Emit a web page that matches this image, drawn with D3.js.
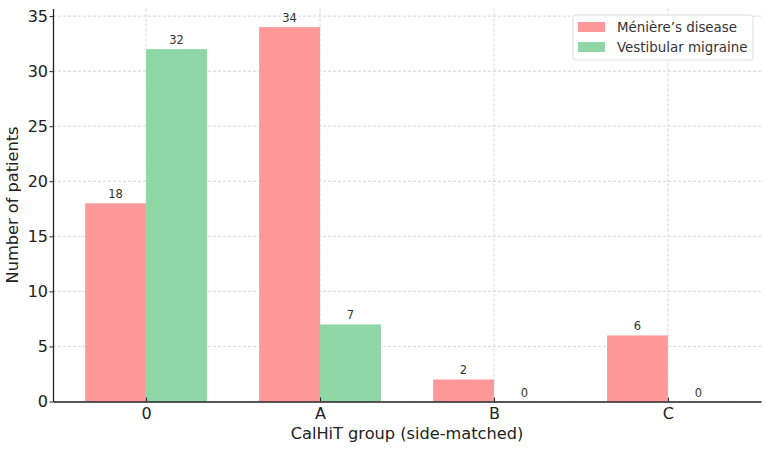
<!DOCTYPE html>
<html>
<head>
<meta charset="utf-8">
<script src="https://cdn.jsdelivr.net/npm/d3@7"></script>
<style>
  body { margin: 0; background: #fff; }
  text { font-family: "DejaVu Sans", sans-serif; }
</style>
</head>
<body>
<div id="chart"></div>
<script>
// Data
const categories = ['0', 'A', 'B', 'C'];
const menieres = [18, 34, 2, 6];
const migraine = [32, 7, 0, 0];
const seriesNames = ['Ménière’s disease', 'Vestibular migraine'];
const yTicks = [0, 5, 10, 15, 20, 25, 30, 35];

// Constants
const W = 766, H = 449;
const MARGIN = { top: 8.4, right: 5, bottom: 47.5, left: 53 };
const COLORS = ['#ff9999', '#8ed6a4'];
const BAR = 0.35;

const svg = d3.select('#chart').append('svg')
  .attr('width', W).attr('height', H);

// Scales (matplotlib-like limits)
const x = d3.scaleLinear()
  .domain([-0.535, categories.length - 1 + 0.535])
  .range([MARGIN.left, W - MARGIN.right]);
const y = d3.scaleLinear()
  .domain([0, 35.7])
  .range([H - MARGIN.bottom, MARGIN.top]);

// Grid
const grid = svg.append('g').attr('stroke', '#cccccc').attr('stroke-width', 0.8)
  .attr('stroke-dasharray', '3,2');
grid.selectAll('.gy').data(yTicks).join('line')
  .attr('x1', x.range()[0]).attr('x2', x.range()[1])
  .attr('y1', d => y(d)).attr('y2', d => y(d));
grid.selectAll('.gx').data(categories).join('line')
  .attr('x1', (d, i) => x(i)).attr('x2', (d, i) => x(i))
  .attr('y1', y.range()[0]).attr('y2', y.range()[1]);

// Bars
const series = [menieres, migraine];
series.forEach((vals, s) => {
  const off = s === 0 ? -BAR / 2 : BAR / 2;
  const g = svg.append('g');
  g.selectAll('rect').data(vals).join('rect')
    .attr('x', (d, i) => x(i + off - BAR / 2))
    .attr('width', x(BAR) - x(0))
    .attr('y', d => y(d))
    .attr('height', d => y(0) - y(d))
    .attr('fill', COLORS[s]);
  g.selectAll('text').data(vals).join('text')
    .attr('x', (d, i) => x(i + off))
    .attr('y', d => y(d) - 5)
    .attr('text-anchor', 'middle')
    .attr('font-size', 11.5)
    .attr('fill', '#333')
    .text(d => d);
});

// Axes
const xAxis = svg.append('g').attr('transform', `translate(0,${y(0)})`)
  .call(d3.axisBottom(x).tickValues(d3.range(categories.length))
    .tickFormat(i => categories[i]).tickSizeInner(-4).tickSizeOuter(0).tickPadding(6.5));
xAxis.select('.domain').attr('stroke', '#222').attr('stroke-width', 1.3);
xAxis.selectAll('.tick line').attr('stroke', '#222');
xAxis.selectAll('.tick text').attr('font-size', 16).attr('fill', '#222')
  .attr('font-family', '"DejaVu Sans", sans-serif');

const yAxis = svg.append('g').attr('transform', `translate(${x.range()[0]},0)`)
  .call(d3.axisLeft(y).tickValues(yTicks).tickSizeInner(3.5).tickSizeOuter(0).tickPadding(1.5));
yAxis.select('.domain').attr('stroke', '#222').attr('stroke-width', 1.3);
yAxis.selectAll('.tick line').attr('stroke', '#222');
yAxis.selectAll('.tick text').attr('font-size', 16).attr('fill', '#222')
  .attr('font-family', '"DejaVu Sans", sans-serif');

// Axis labels
svg.append('text')
  .attr('x', (x.range()[0] + x.range()[1]) / 2)
  .attr('y', 439)
  .attr('text-anchor', 'middle')
  .attr('font-size', 16.2)
  .attr('fill', '#222')
  .text('CalHiT group (side-matched)');
svg.append('text')
  .attr('transform', `translate(18,${(y.range()[0] + y.range()[1]) / 2}) rotate(-90)`)
  .attr('text-anchor', 'middle')
  .attr('font-size', 16.2)
  .attr('fill', '#222')
  .text('Number of patients');

// Legend
const legend = svg.append('g').attr('transform', 'translate(573,15)');
legend.append('rect')
  .attr('width', 180).attr('height', 45).attr('rx', 3)
  .attr('fill', 'white').attr('fill-opacity', 0.85)
  .attr('stroke', '#dddddd');
seriesNames.forEach((name, i) => {
  legend.append('rect')
    .attr('x', 5).attr('y', 7 + i * 20)
    .attr('width', 27).attr('height', 10)
    .attr('fill', COLORS[i]);
  legend.append('text')
    .attr('x', 44).attr('y', 17 + i * 20)
    .attr('font-size', 13.4)
    .attr('fill', '#333')
    .text(name);
});
</script>
</body>
</html>
